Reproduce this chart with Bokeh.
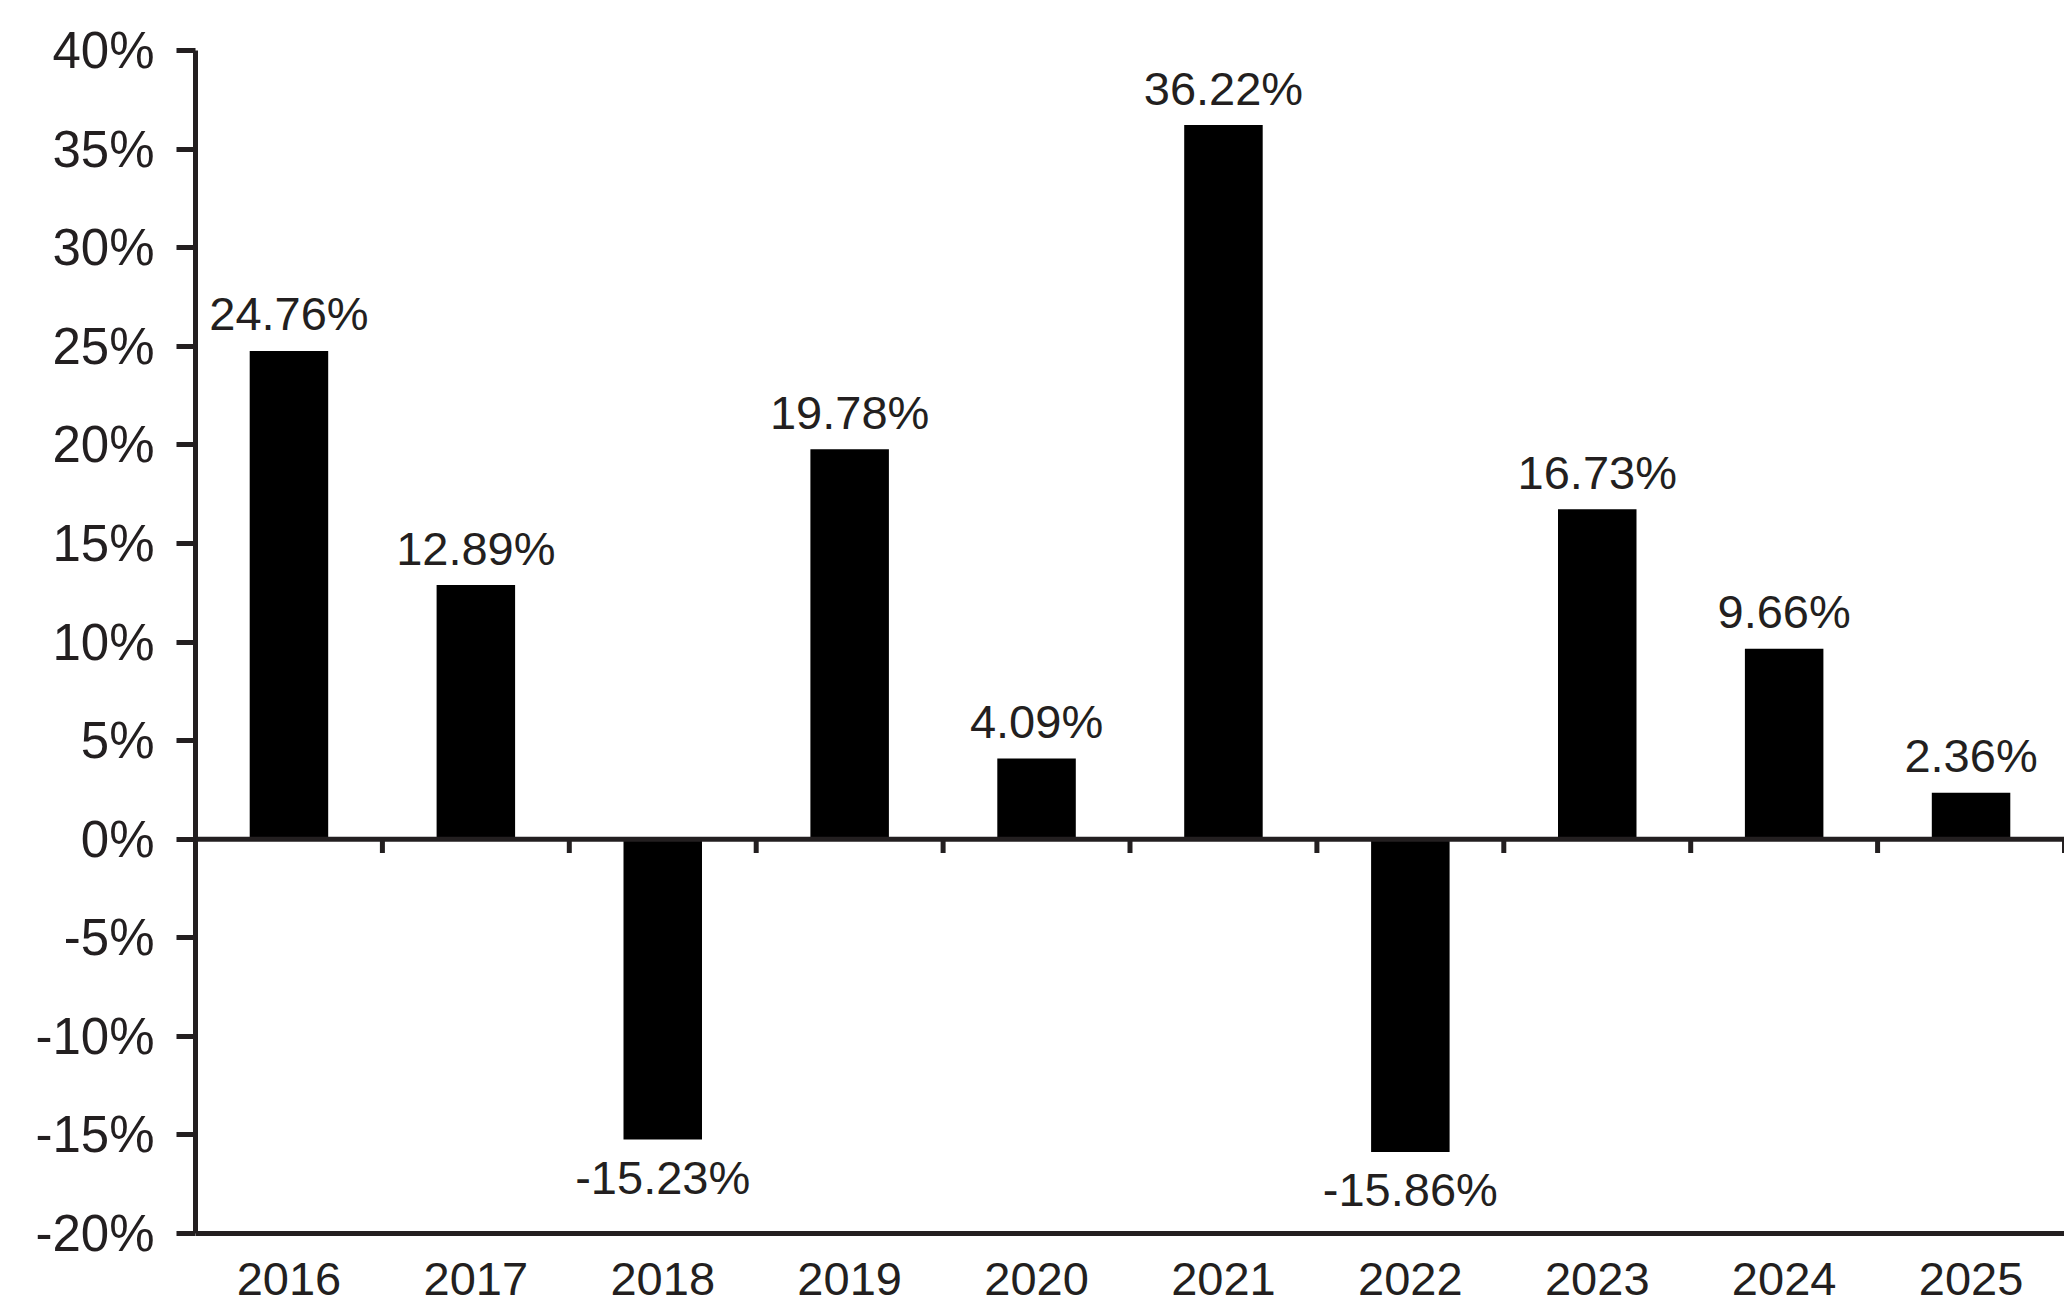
from bokeh.plotting import figure
from bokeh.models import ColumnDataSource, Range1d, FactorRange, FixedTicker, Span
from bokeh.transform import dodge
from bokeh.core.properties import value
from bokeh.embed import file_html
from bokeh.resources import INLINE

years = ["2016", "2017", "2018", "2019", "2020", "2021", "2022", "2023", "2024", "2025"]
returns = [24.76, 12.89, -15.23, 19.78, 4.09, 36.22, -15.86, 16.73, 9.66, 2.36]
y_ticks = [-20, -15, -10, -5, 0, 5, 10, 15, 20, 25, 30, 35, 40]
y_tick_labels = [f"{t}%" for t in y_ticks]
value_labels = [f"{v:.2f}%" for v in returns]

TEXT = "#231f20"
FONT = "Liberation Sans"

src = ColumnDataSource(dict(year=years, ret=returns, lab=value_labels))
pos = ColumnDataSource(dict(year=[y for y, v in zip(years, returns) if v >= 0],
                            ret=[v for v in returns if v >= 0],
                            lab=[l for l, v in zip(value_labels, returns) if v >= 0]))
neg = ColumnDataSource(dict(year=[y for y, v in zip(years, returns) if v < 0],
                            ret=[v for v in returns if v < 0],
                            lab=[l for l, v in zip(value_labels, returns) if v < 0]))

p = figure(width=2064, height=1304,
           x_range=FactorRange(factors=years),
           y_range=Range1d(-23.6, 40),
           x_axis_location=None,
           toolbar_location=None, output_backend="svg",
           min_border_left=195, min_border_right=0,
           min_border_top=50, min_border_bottom=0)

p.xgrid.visible = False
p.ygrid.visible = False
p.outline_line_color = None
p.background_fill_color = "white"
p.border_fill_color = "white"

# Bars
p.vbar(x="year", top="ret", bottom=0, width=0.42, source=src,
       fill_color="black", line_color=None)

# Zero line and bottom line
p.add_layout(Span(location=0, dimension="width", line_color=TEXT, line_width=5))
p.add_layout(Span(location=y_ticks[0], dimension="width", line_color=TEXT, line_width=5))

# Category boundary ticks on the zero line
p.segment(x0=dodge("year", 0.5, range=p.x_range), y0=0,
          x1=dodge("year", 0.5, range=p.x_range), y1=-0.7,
          source=src, line_color=TEXT, line_width=5, line_cap="butt")

# Value labels
p.text(x="year", y="ret", text="lab", source=pos,
       text_align="center", text_baseline="middle", y_offset=-37,
       text_font=value(FONT), text_font_size="47px", text_color=TEXT)
p.text(x="year", y="ret", text="lab", source=neg,
       text_align="center", text_baseline="middle", y_offset=38,
       text_font=value(FONT), text_font_size="47px", text_color=TEXT)

# Year labels below the bottom line
yr = ColumnDataSource(dict(year=years, base=[y_ticks[0]] * len(years)))
p.text(x="year", y="base", text="year", source=yr,
       text_align="center", text_baseline="middle", y_offset=45,
       text_font=value(FONT), text_font_size="47px", text_color=TEXT)

# Y axis
ax = p.yaxis[0]
ax.ticker = FixedTicker(ticks=y_ticks)
ax.major_label_overrides = {t: l for t, l in zip(y_ticks, y_tick_labels)}
ax.bounds = (y_ticks[0], y_ticks[-1])
ax.axis_line_color = TEXT
ax.axis_line_width = 5
ax.major_tick_line_color = TEXT
ax.major_tick_line_width = 5
ax.major_tick_out = 19
ax.major_tick_in = 0
ax.minor_tick_line_color = None
ax.major_label_standoff = 22
ax.major_label_text_font = FONT
ax.major_label_text_font_size = "51px"
ax.major_label_text_color = TEXT

open("out.html", "w").write(file_html(p, INLINE))
